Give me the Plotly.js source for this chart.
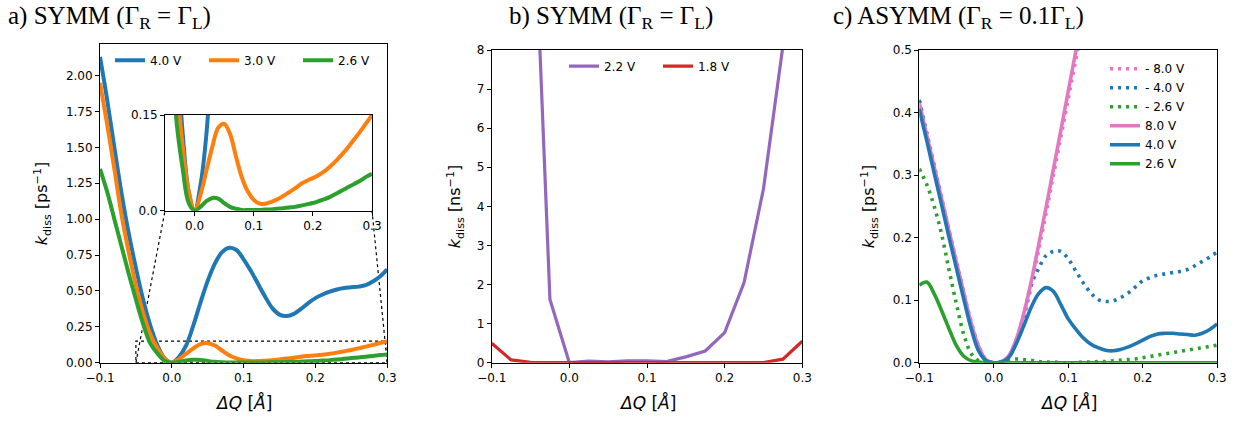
<!DOCTYPE html>
<html><head><meta charset="utf-8">
<script src="https://cdn.plot.ly/plotly-3.0.1.min.js"></script>
<style>html,body{margin:0;padding:0;background:#fff}#chart{width:1242px;height:422px}</style>
</head><body><div id="chart"></div>
<script>
// ---------- Panel a : SYMM, k_diss [ps^-1] ----------
const xA = [-0.10,-0.09,-0.08,-0.07,-0.06,-0.05,-0.04,-0.03,-0.02,-0.01,0.00,0.01,0.02,0.03,0.04,0.05,0.06,0.07,0.08,0.09,0.10,0.11,0.12,0.13,0.14,0.15,0.16,0.17,0.18,0.19,0.20,0.21,0.22,0.23,0.24,0.25,0.26,0.27,0.28,0.29,0.30];
const a_4V0 = [2.13,1.83,1.50,1.18,0.90,0.66,0.44,0.26,0.12,0.03,0.00,0.04,0.12,0.26,0.42,0.57,0.69,0.77,0.80,0.785,0.72,0.64,0.55,0.46,0.38,0.335,0.325,0.34,0.375,0.415,0.45,0.475,0.495,0.51,0.52,0.525,0.53,0.54,0.565,0.60,0.65];
const a_3V0 = [1.95,1.66,1.35,1.03,0.77,0.54,0.35,0.20,0.10,0.03,0.00,0.025,0.063,0.10,0.13,0.136,0.12,0.085,0.052,0.030,0.017,0.011,0.011,0.014,0.018,0.023,0.029,0.035,0.042,0.047,0.051,0.056,0.062,0.070,0.079,0.089,0.100,0.112,0.124,0.137,0.150];
const a_2V6 = [1.35,1.19,1.00,0.81,0.62,0.44,0.27,0.135,0.065,0.012,0.00,0.006,0.015,0.020,0.019,0.012,0.006,0.003,0.001,0.001,0.001,0.001,0.002,0.002,0.003,0.004,0.005,0.006,0.008,0.010,0.012,0.015,0.018,0.022,0.027,0.032,0.037,0.042,0.047,0.053,0.058];
const labelsA = ['4.0 V','3.0 V','2.6 V'];

// ---------- Panel b : SYMM, k_diss [ns^-1] ----------
const xB = [-0.1,-0.075,-0.05,-0.025,0.0,0.025,0.05,0.075,0.1,0.125,0.15,0.175,0.2,0.225,0.25,0.275,0.3];
const b_2V2 = [45,28,14,1.62,0.0,0.04,0.02,0.05,0.05,0.03,0.15,0.30,0.77,2.05,4.45,8.1,14];
const b_1V8 = [0.50,0.07,0.01,0.005,0.005,0.0,0.0,0.0,0.0,0.0,0.0,0.01,0.02,0.005,0.005,0.09,0.55];
const labelsB = ['2.2 V','1.8 V'];

// ---------- Panel c : ASYMM, k_diss [ps^-1] ----------
const xC = [-0.10,-0.09,-0.08,-0.07,-0.06,-0.05,-0.04,-0.03,-0.02,-0.01,0.00,0.01,0.02,0.03,0.04,0.05,0.06,0.07,0.08,0.09,0.10,0.11,0.12,0.13,0.14,0.15,0.16,0.17,0.18,0.19,0.20,0.21,0.22,0.23,0.24,0.25,0.26,0.27,0.28,0.29,0.30];
const c_m8V0 = [0.42,0.368,0.316,0.264,0.212,0.161,0.111,0.064,0.026,0.005,0.0,0.001,0.009,0.032,0.07,0.12,0.178,0.238,0.299,0.36,0.422,0.484,0.546,0.608,null,null,null,null,null,null,null,null,null,null,null,null,null,null,null,null,null];
const c_m4V0 = [0.42,0.366,0.313,0.26,0.208,0.157,0.107,0.06,0.023,0.004,0.0,0.001,0.01,0.035,0.075,0.124,0.15,0.171,0.178,0.178,0.166,0.147,0.128,0.112,0.101,0.098,0.099,0.104,0.111,0.121,0.131,0.136,0.14,0.142,0.144,0.146,0.149,0.155,0.162,0.169,0.177];
const c_m2V6 = [0.31,0.285,0.25,0.205,0.148,0.093,0.044,0.014,0.003,0.0,0.0,0.002,0.005,0.006,0.005,0.004,0.002,0.001,0.001,0.0,0.0,0.0,0.001,0.001,0.002,0.002,0.003,0.004,0.005,0.006,0.008,0.01,0.012,0.014,0.016,0.018,0.02,0.022,0.024,0.026,0.028];
const c_8V0 = [0.415,0.364,0.313,0.262,0.21,0.16,0.11,0.062,0.025,0.004,0.0,0.001,0.011,0.037,0.077,0.128,0.187,0.247,0.309,0.371,0.434,0.497,0.56,0.622,null,null,null,null,null,null,null,null,null,null,null,null,null,null,null,null,null];
const c_4V0 = [0.405,0.355,0.303,0.252,0.20,0.15,0.10,0.053,0.018,0.003,0.0,0.001,0.008,0.03,0.058,0.088,0.11,0.12,0.114,0.093,0.07,0.054,0.04,0.03,0.024,0.02,0.019,0.021,0.025,0.03,0.036,0.042,0.046,0.047,0.047,0.046,0.045,0.044,0.047,0.053,0.062];
const c_2V6 = [0.124,0.129,0.11,0.083,0.054,0.027,0.01,0.003,0.001,0.0,0.0,0.0,0.0,0.0,0.0,0.0,0.0,0.0,0.0,0.0,0.0,0.0,0.0,0.0,0.0,0.0,0.0,0.0,0.0,0.0,0.0,0.0,0.0,0.0,0.0,0.0,0.0,0.0,0.0,0.0,0.0];
const labelsC = ['- 8.0 V','- 4.0 V','- 2.6 V','8.0 V','4.0 V','2.6 V'];

const xTicks = [-0.1,0.0,0.1,0.2,0.3];
const titles = ['a) SYMM (Γ<sub>R</sub> = Γ<sub>L</sub>)','b) SYMM (Γ<sub>R</sub> = Γ<sub>L</sub>)','c) ASYMM (Γ<sub>R</sub> = 0.1Γ<sub>L</sub>)'];
const yTitles = ['<i>k</i><sub>diss</sub> [ps<sup>−1</sup>]','<i>k</i><sub>diss</sub> [ns<sup>−1</sup>]','<i>k</i><sub>diss</sub> [ps<sup>−1</sup>]'];
const xTitle = '<i>ΔQ</i> [<i>Å</i>]';

// ---------- colours ----------
const C = {blue:'#1f77b4', orange:'#ff7f0e', green:'#2ca02c', red:'#d62728', purple:'#9467bd', pink:'#e377c2'};

// ---------- layout geometry (pixels) ----------
const W = 1242, H = 422;
const px = p => p / W, py = p => 1 - p / H;
const boxA = {x0:100, x1:387.2, top:44, bottom:362.7};
const boxB = {x0:491.7, x1:802.3, top:50, bottom:362.7};
const boxC = {x0:919.3, x1:1217.2, top:50, bottom:362.7};
const boxI = {x0:165, x1:372, top:115, bottom:210.7};
const rangeA = [0, 2.22], rangeI = [-0.05, 0.3];

const font = {family:'DejaVu Sans', size:12, color:'#000'};
function axis(extra){
  return Object.assign({showline:true, linecolor:'#000', linewidth:1, mirror:true, ticks:'outside', ticklen:4,
    tickwidth:1, tickcolor:'#000', showgrid:false, zeroline:false, tickfont:font, fixedrange:true}, extra);
}

const lw = 4;
const traces = [];
function line(x, y, name, color, opt){
  return Object.assign({x:x, y:y, name:name, type:'scatter', mode:'lines',
    line:{color:color, width:lw, shape:'spline', smoothing:1}}, opt);
}
// panel a
traces.push(line(xA, a_4V0, labelsA[0], C.blue, {legend:'legend'}));
traces.push(line(xA, a_3V0, labelsA[1], C.orange, {legend:'legend'}));
traces.push(line(xA, a_2V6, labelsA[2], C.green, {legend:'legend'}));
// inset
traces.push(line(xA, a_4V0, labelsA[0], C.blue, {xaxis:'x4', yaxis:'y4', showlegend:false}));
traces.push(line(xA, a_3V0, labelsA[1], C.orange, {xaxis:'x4', yaxis:'y4', showlegend:false}));
traces.push(line(xA, a_2V6, labelsA[2], C.green, {xaxis:'x4', yaxis:'y4', showlegend:false}));
// panel b
traces.push({x:xB, y:b_2V2, name:labelsB[0], type:'scatter', mode:'lines', xaxis:'x2', yaxis:'y2', legend:'legend2',
  line:{color:C.purple, width:3.2}});
traces.push({x:xB, y:b_1V8, name:labelsB[1], type:'scatter', mode:'lines', xaxis:'x2', yaxis:'y2', legend:'legend2',
  line:{color:C.red, width:3.2}});
// panel c
const dotted = '3px,5px';
const cw = 3.6;
const csets = [[c_m8V0, C.pink, dotted],[c_m4V0, C.blue, dotted],[c_m2V6, C.green, dotted],
               [c_8V0, C.pink, 'solid'],[c_4V0, C.blue, 'solid'],[c_2V6, C.green, 'solid']];
csets.forEach((s, i) => {
  traces.push({x:xC, y:s[0], name:labelsC[i], type:'scatter', mode:'lines', xaxis:'x3', yaxis:'y3', legend:'legend3',
    legendgroup:'c' + i, line:{color:s[1], width:cw, dash:s[2], shape:'spline', smoothing:1}});
});

// convert inset corner (pixel) to main-panel data coords
function toA(pxX, pxY){
  const xd = -0.1 + (pxX - boxA.x0) / (boxA.x1 - boxA.x0) * 0.4;
  const yd = rangeA[0] + (boxA.bottom - pxY) / (boxA.bottom - boxA.top) * (rangeA[1] - rangeA[0]);
  return [xd, yd];
}
const insLL = toA(boxI.x0, boxI.bottom), insLR = toA(boxI.x1, boxI.bottom);
const dotLine = {color:'#000', width:1.2, dash:'dot'};
const shapes = [
  {type:'rect', xref:'x', yref:'y', x0:rangeI[0], x1:rangeI[1], y0:0, y1:0.15, line:dotLine, layer:'below'},
  {type:'line', xref:'x', yref:'y', x0:rangeI[0], y0:0, x1:insLL[0], y1:insLL[1], line:dotLine, layer:'below'},
  {type:'line', xref:'x', yref:'y', x0:rangeI[1], y0:0, x1:insLR[0], y1:insLR[1], line:dotLine, layer:'below'}
];

const annotations = [];
const titleX = [7, 508, 832];
titles.forEach((t, i) => annotations.push({text:t, xref:'paper', yref:'paper', x:px(titleX[i]), y:py(1),
  xanchor:'left', yanchor:'top', showarrow:false, borderpad:0, font:{family:'Liberation Serif', size:25, color:'#000'}}));
const yTitleX = [42, 455, 869];
const boxes = [boxA, boxB, boxC];
yTitles.forEach((t, i) => annotations.push({text:t, xref:'paper', yref:'paper', x:px(yTitleX[i]),
  y:py((boxes[i].top + boxes[i].bottom) / 2), xanchor:'center', yanchor:'middle', textangle:-90, showarrow:false,
  font:{family:'DejaVu Sans', size:16, color:'#000'}}));
boxes.forEach(b => annotations.push({text:xTitle, xref:'paper', yref:'paper', x:px((b.x0 + b.x1) / 2), y:py(402),
  xanchor:'center', yanchor:'middle', showarrow:false, font:{family:'DejaVu Sans', size:17, color:'#000'}}));

const legFont = {family:'DejaVu Sans', size:12, color:'#000'};
const layout = {
  width:W, height:H, margin:{l:0, r:0, t:0, b:0}, paper_bgcolor:'#fff', plot_bgcolor:'rgba(0,0,0,0)',
  font:{family:'DejaVu Sans', color:'#000'},
  xaxis: axis({domain:[px(boxA.x0), px(boxA.x1)], range:[-0.1, 0.3], tickvals:xTicks, tickformat:'.1f', anchor:'y'}),
  yaxis: axis({domain:[py(boxA.bottom), py(boxA.top)], range:rangeA, dtick:0.25, tick0:0, tickformat:'.2f', anchor:'x'}),
  xaxis2: axis({domain:[px(boxB.x0), px(boxB.x1)], range:[-0.1, 0.3], tickvals:xTicks, tickformat:'.1f', anchor:'y2'}),
  yaxis2: axis({domain:[py(boxB.bottom), py(boxB.top)], range:[0, 8], dtick:1, tick0:0, anchor:'x2'}),
  xaxis3: axis({domain:[px(boxC.x0), px(boxC.x1)], range:[-0.1, 0.3], tickvals:xTicks, tickformat:'.1f', anchor:'y3'}),
  yaxis3: axis({domain:[py(boxC.bottom), py(boxC.top)], range:[0, 0.5], dtick:0.1, tick0:0, tickformat:'.1f', anchor:'x3'}),
  xaxis4: axis({domain:[px(boxI.x0), px(boxI.x1)], range:rangeI, tickvals:[0, 0.1, 0.2, 0.3], tickformat:'.1f', anchor:'y4'}),
  yaxis4: axis({domain:[py(boxI.bottom), py(boxI.top)], range:[0, 0.15], tickvals:[0, 0.15], ticktext:['0.0','0.15'], anchor:'x4'}),
  showlegend:true,
  legend: {orientation:'h', x:px(110), y:py(45.7), xanchor:'left', yanchor:'top', font:legFont, bgcolor:'rgba(0,0,0,0)',
    borderwidth:0, entrywidth:49, entrywidthmode:'pixels', traceorder:'normal'},
  legend2: {orientation:'h', x:px(564), y:py(51.7), xanchor:'left', yanchor:'top', font:legFont, bgcolor:'rgba(0,0,0,0)',
    borderwidth:0, entrywidth:49, entrywidthmode:'pixels', traceorder:'normal'},
  legend3: {orientation:'v', x:px(1105), y:py(54.3), xanchor:'left', yanchor:'top', font:legFont, bgcolor:'rgba(0,0,0,0)',
    borderwidth:0, traceorder:'normal', tracegroupgap:3},
  shapes: shapes,
  annotations: annotations
};

Plotly.newPlot('chart', traces, layout, {staticPlot:true, displayModeBar:false});
</script>
</body></html>
